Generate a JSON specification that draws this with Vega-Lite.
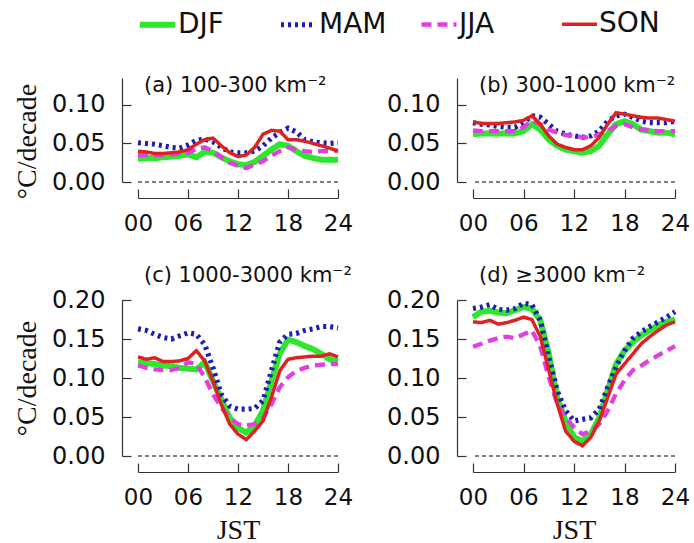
{
  "$schema": "https://vega.github.io/schema/vega-lite/v6.json",
  "background": "white",
  "padding": {"left": 13, "top": 4, "right": 10, "bottom": 2},
  "config": {
    "view": {"stroke": null},
    "font": "DejaVu Sans",
    "axis": {"grid": false, "domainColor": "#333", "tickColor": "#333", "domainWidth": 1.2, "tickWidth": 1.2, "tickSize": -9, "labelFont": "DejaVu Sans", "labelColor": "#111", "titleFont": "Liberation Serif", "titleFontWeight": "normal", "titleColor": "#111", "labelFlush": false, "labelOverlap": false},
    "axisX": {"labelFontSize": 23, "labelPadding": 23, "offset": 16, "titleFontSize": 28, "titlePadding": 7},
    "axisY": {"labelFontSize": 24, "labelPadding": 26, "offset": 16, "titleFontSize": 28, "titlePadding": 10},
    "title": {"font": "DejaVu Sans", "fontSize": 21, "fontWeight": "normal", "anchor": "start", "frame": "group", "dx": 6, "color": "#111"},
    "legend": {"labelFont": "DejaVu Sans", "labelFontSize": 28, "labelColor": "#111", "symbolSize": 1225, "symbolType": "stroke", "labelOffset": 0, "columnPadding": 24, "gridAlign": "all"}
  },
  "datasets": {
    "a": [
      {"h":0,"DJF":0.030,"MAM":0.051,"JJA":0.035,"SON":0.040},
      {"h":1,"DJF":0.031,"MAM":0.050,"JJA":0.035,"SON":0.039},
      {"h":2,"DJF":0.031,"MAM":0.049,"JJA":0.035,"SON":0.037},
      {"h":3,"DJF":0.032,"MAM":0.047,"JJA":0.035,"SON":0.037},
      {"h":4,"DJF":0.033,"MAM":0.045,"JJA":0.036,"SON":0.038},
      {"h":5,"DJF":0.034,"MAM":0.044,"JJA":0.037,"SON":0.039},
      {"h":6,"DJF":0.036,"MAM":0.048,"JJA":0.038,"SON":0.042},
      {"h":7,"DJF":0.032,"MAM":0.054,"JJA":0.043,"SON":0.049},
      {"h":8,"DJF":0.039,"MAM":0.056,"JJA":0.045,"SON":0.055},
      {"h":9,"DJF":0.038,"MAM":0.052,"JJA":0.040,"SON":0.057},
      {"h":10,"DJF":0.032,"MAM":0.045,"JJA":0.032,"SON":0.047},
      {"h":11,"DJF":0.027,"MAM":0.039,"JJA":0.025,"SON":0.038},
      {"h":12,"DJF":0.023,"MAM":0.038,"JJA":0.021,"SON":0.033},
      {"h":13,"DJF":0.022,"MAM":0.038,"JJA":0.018,"SON":0.035},
      {"h":14,"DJF":0.026,"MAM":0.040,"JJA":0.023,"SON":0.045},
      {"h":15,"DJF":0.034,"MAM":0.047,"JJA":0.027,"SON":0.062},
      {"h":16,"DJF":0.042,"MAM":0.057,"JJA":0.034,"SON":0.067},
      {"h":17,"DJF":0.049,"MAM":0.064,"JJA":0.040,"SON":0.066},
      {"h":18,"DJF":0.047,"MAM":0.070,"JJA":0.045,"SON":0.055},
      {"h":19,"DJF":0.040,"MAM":0.065,"JJA":0.042,"SON":0.055},
      {"h":20,"DJF":0.034,"MAM":0.055,"JJA":0.040,"SON":0.053},
      {"h":21,"DJF":0.031,"MAM":0.052,"JJA":0.039,"SON":0.050},
      {"h":22,"DJF":0.029,"MAM":0.051,"JJA":0.040,"SON":0.047},
      {"h":23,"DJF":0.029,"MAM":0.050,"JJA":0.040,"SON":0.044},
      {"h":24,"DJF":0.029,"MAM":0.051,"JJA":0.041,"SON":0.040}
    ],
    "b": [
      {"h":0,"DJF":0.062,"MAM":0.077,"JJA":0.067,"SON":0.078},
      {"h":1,"DJF":0.063,"MAM":0.075,"JJA":0.066,"SON":0.076},
      {"h":2,"DJF":0.063,"MAM":0.074,"JJA":0.066,"SON":0.076},
      {"h":3,"DJF":0.063,"MAM":0.072,"JJA":0.066,"SON":0.076},
      {"h":4,"DJF":0.063,"MAM":0.071,"JJA":0.066,"SON":0.077},
      {"h":5,"DJF":0.063,"MAM":0.071,"JJA":0.066,"SON":0.078},
      {"h":6,"DJF":0.066,"MAM":0.077,"JJA":0.071,"SON":0.080},
      {"h":7,"DJF":0.075,"MAM":0.086,"JJA":0.080,"SON":0.086},
      {"h":8,"DJF":0.068,"MAM":0.084,"JJA":0.075,"SON":0.075},
      {"h":9,"DJF":0.055,"MAM":0.075,"JJA":0.068,"SON":0.060},
      {"h":10,"DJF":0.047,"MAM":0.066,"JJA":0.064,"SON":0.049},
      {"h":11,"DJF":0.042,"MAM":0.062,"JJA":0.061,"SON":0.045},
      {"h":12,"DJF":0.040,"MAM":0.060,"JJA":0.060,"SON":0.042},
      {"h":13,"DJF":0.038,"MAM":0.058,"JJA":0.058,"SON":0.042},
      {"h":14,"DJF":0.040,"MAM":0.060,"JJA":0.058,"SON":0.047},
      {"h":15,"DJF":0.047,"MAM":0.066,"JJA":0.062,"SON":0.058},
      {"h":16,"DJF":0.062,"MAM":0.079,"JJA":0.066,"SON":0.075},
      {"h":17,"DJF":0.075,"MAM":0.086,"JJA":0.073,"SON":0.090},
      {"h":18,"DJF":0.079,"MAM":0.088,"JJA":0.075,"SON":0.088},
      {"h":19,"DJF":0.075,"MAM":0.084,"JJA":0.071,"SON":0.086},
      {"h":20,"DJF":0.068,"MAM":0.079,"JJA":0.068,"SON":0.084},
      {"h":21,"DJF":0.066,"MAM":0.077,"JJA":0.067,"SON":0.083},
      {"h":22,"DJF":0.064,"MAM":0.077,"JJA":0.066,"SON":0.083},
      {"h":23,"DJF":0.064,"MAM":0.077,"JJA":0.066,"SON":0.081},
      {"h":24,"DJF":0.062,"MAM":0.079,"JJA":0.066,"SON":0.079}
    ],
    "c": [
      {"h":0,"DJF":0.120,"MAM":0.163,"JJA":0.116,"SON":0.127},
      {"h":1,"DJF":0.119,"MAM":0.161,"JJA":0.113,"SON":0.124},
      {"h":2,"DJF":0.118,"MAM":0.156,"JJA":0.111,"SON":0.126},
      {"h":3,"DJF":0.116,"MAM":0.152,"JJA":0.110,"SON":0.121},
      {"h":4,"DJF":0.115,"MAM":0.150,"JJA":0.110,"SON":0.121},
      {"h":5,"DJF":0.113,"MAM":0.154,"JJA":0.113,"SON":0.122},
      {"h":6,"DJF":0.112,"MAM":0.158,"JJA":0.120,"SON":0.125},
      {"h":7,"DJF":0.111,"MAM":0.156,"JJA":0.118,"SON":0.135},
      {"h":8,"DJF":0.120,"MAM":0.143,"JJA":0.101,"SON":0.122},
      {"h":9,"DJF":0.096,"MAM":0.113,"JJA":0.079,"SON":0.096},
      {"h":10,"DJF":0.073,"MAM":0.079,"JJA":0.062,"SON":0.066},
      {"h":11,"DJF":0.049,"MAM":0.064,"JJA":0.049,"SON":0.041},
      {"h":12,"DJF":0.036,"MAM":0.060,"JJA":0.041,"SON":0.028},
      {"h":13,"DJF":0.030,"MAM":0.060,"JJA":0.039,"SON":0.021},
      {"h":14,"DJF":0.039,"MAM":0.061,"JJA":0.041,"SON":0.032},
      {"h":15,"DJF":0.058,"MAM":0.071,"JJA":0.049,"SON":0.045},
      {"h":16,"DJF":0.096,"MAM":0.109,"JJA":0.066,"SON":0.075},
      {"h":17,"DJF":0.131,"MAM":0.146,"JJA":0.088,"SON":0.109},
      {"h":18,"DJF":0.149,"MAM":0.156,"JJA":0.101,"SON":0.124},
      {"h":19,"DJF":0.146,"MAM":0.157,"JJA":0.109,"SON":0.126},
      {"h":20,"DJF":0.141,"MAM":0.161,"JJA":0.113,"SON":0.127},
      {"h":21,"DJF":0.137,"MAM":0.163,"JJA":0.116,"SON":0.128},
      {"h":22,"DJF":0.131,"MAM":0.166,"JJA":0.117,"SON":0.128},
      {"h":23,"DJF":0.124,"MAM":0.166,"JJA":0.118,"SON":0.131},
      {"h":24,"DJF":0.121,"MAM":0.164,"JJA":0.118,"SON":0.127}
    ],
    "d": [
      {"h":0,"DJF":0.178,"MAM":0.189,"JJA":0.140,"SON":0.172},
      {"h":1,"DJF":0.185,"MAM":0.191,"JJA":0.144,"SON":0.171},
      {"h":2,"DJF":0.186,"MAM":0.194,"JJA":0.148,"SON":0.174},
      {"h":3,"DJF":0.184,"MAM":0.188,"JJA":0.151,"SON":0.169},
      {"h":4,"DJF":0.183,"MAM":0.187,"JJA":0.153,"SON":0.171},
      {"h":5,"DJF":0.187,"MAM":0.189,"JJA":0.151,"SON":0.174},
      {"h":6,"DJF":0.191,"MAM":0.196,"JJA":0.156,"SON":0.178},
      {"h":7,"DJF":0.189,"MAM":0.194,"JJA":0.161,"SON":0.175},
      {"h":8,"DJF":0.174,"MAM":0.174,"JJA":0.140,"SON":0.153},
      {"h":9,"DJF":0.131,"MAM":0.127,"JJA":0.101,"SON":0.110},
      {"h":10,"DJF":0.075,"MAM":0.084,"JJA":0.067,"SON":0.067},
      {"h":11,"DJF":0.045,"MAM":0.058,"JJA":0.049,"SON":0.032},
      {"h":12,"DJF":0.024,"MAM":0.045,"JJA":0.037,"SON":0.019},
      {"h":13,"DJF":0.019,"MAM":0.047,"JJA":0.028,"SON":0.013},
      {"h":14,"DJF":0.028,"MAM":0.049,"JJA":0.032,"SON":0.024},
      {"h":15,"DJF":0.049,"MAM":0.060,"JJA":0.041,"SON":0.045},
      {"h":16,"DJF":0.084,"MAM":0.088,"JJA":0.058,"SON":0.075},
      {"h":17,"DJF":0.118,"MAM":0.114,"JJA":0.080,"SON":0.105},
      {"h":18,"DJF":0.135,"MAM":0.135,"JJA":0.097,"SON":0.118},
      {"h":19,"DJF":0.146,"MAM":0.151,"JJA":0.110,"SON":0.131},
      {"h":20,"DJF":0.155,"MAM":0.159,"JJA":0.116,"SON":0.144},
      {"h":21,"DJF":0.161,"MAM":0.166,"JJA":0.123,"SON":0.153},
      {"h":22,"DJF":0.168,"MAM":0.172,"JJA":0.129,"SON":0.161},
      {"h":23,"DJF":0.172,"MAM":0.178,"JJA":0.135,"SON":0.168},
      {"h":24,"DJF":0.175,"MAM":0.185,"JJA":0.141,"SON":0.172}
    ]
  },
  "columns": 2,
  "spacing": {"row": 118, "column": 135},
  "bounds": "flush",
  "resolve": {"scale": {"color": "shared", "strokeDash": "shared", "strokeWidth": "shared"}},
  "concat": [
    {
      "width": 200, "height": 104,
      "title": {"text": "(a) 100-300 km⁻²", "offset": -18},
      "layer": [
        {"data": {"name": "a"}, "transform": [{"fold": ["DJF","MAM","JJA","SON"], "as": ["s","v"]}],
         "mark": {"type": "line"},
         "encoding": {
           "x": {"field": "h", "type": "quantitative", "scale": {"domain": [0,24], "nice": false}, "axis": {"values": [0,6,12,18,24], "format": "02d", "title": null}},
           "y": {"field": "v", "type": "quantitative", "scale": {"domain": [0,0.135], "nice": false, "zero": false}, "axis": {"values": [0,0.05,0.1], "format": ".2f", "title": "°C/decade", "titleY": 63}},
           "color": {"field": "s", "type": "nominal", "scale": {"domain": ["DJF","MAM","JJA","SON"], "range": ["#2EE62E","#1E1EB4","#E040E0","#DD2222"]}, "legend": {"title": null, "orient": "none", "legendX": -1, "legendY": -74, "direction": "horizontal"}},
           "strokeDash": {"field": "s", "type": "nominal", "scale": {"domain": ["DJF","MAM","JJA","SON"], "range": [[1,0],[3,4],[10,6],[1,0]]}, "legend": {"title": null, "orient": "none", "legendX": -1, "legendY": -74, "direction": "horizontal"}},
           "strokeWidth": {"field": "s", "type": "nominal", "scale": {"domain": ["DJF","MAM","JJA","SON"], "range": [6,3.5,2.2,2]}, "legend": {"title": null, "orient": "none", "legendX": -1, "legendY": -74, "direction": "horizontal"}}
         }},
        {"data": {"values": [{}]}, "mark": {"type": "rule", "strokeDash": [4,3], "color": "#000", "strokeWidth": 1.2},
         "encoding": {"y": {"datum": 0, "type": "quantitative", "axis": {"values": [0,0.05,0.1], "format": ".2f", "title": "°C/decade", "titleY": 63}}}}
      ]
    },
    {
      "width": 202, "height": 104,
      "title": {"text": "(b) 300-1000 km⁻²", "offset": -18},
      "layer": [
        {"data": {"name": "b"}, "transform": [{"fold": ["DJF","MAM","JJA","SON"], "as": ["s","v"]}],
         "mark": {"type": "line"},
         "encoding": {
           "x": {"field": "h", "type": "quantitative", "scale": {"domain": [0,24], "nice": false}, "axis": {"values": [0,6,12,18,24], "format": "02d", "title": null}},
           "y": {"field": "v", "type": "quantitative", "scale": {"domain": [0,0.135], "nice": false, "zero": false}, "axis": {"values": [0,0.05,0.1], "format": ".2f", "title": null}},
           "color": {"field": "s", "type": "nominal", "scale": {"domain": ["DJF","MAM","JJA","SON"], "range": ["#2EE62E","#1E1EB4","#E040E0","#DD2222"]}, "legend": {"title": null, "orient": "none", "legendX": -1, "legendY": -74, "direction": "horizontal"}},
           "strokeDash": {"field": "s", "type": "nominal", "scale": {"domain": ["DJF","MAM","JJA","SON"], "range": [[1,0],[3,4],[10,6],[1,0]]}, "legend": {"title": null, "orient": "none", "legendX": -1, "legendY": -74, "direction": "horizontal"}},
           "strokeWidth": {"field": "s", "type": "nominal", "scale": {"domain": ["DJF","MAM","JJA","SON"], "range": [6,3.5,2.2,2]}, "legend": {"title": null, "orient": "none", "legendX": -1, "legendY": -74, "direction": "horizontal"}}
         }},
        {"data": {"values": [{}]}, "mark": {"type": "rule", "strokeDash": [4,3], "color": "#000", "strokeWidth": 1.2},
         "encoding": {"y": {"datum": 0, "type": "quantitative", "axis": {"values": [0,0.05,0.1], "format": ".2f", "title": null}}}}
      ]
    },
    {
      "width": 200, "height": 156,
      "title": {"text": "(c) 1000-3000 km⁻²", "offset": 2},
      "layer": [
        {"data": {"name": "c"}, "transform": [{"fold": ["DJF","MAM","JJA","SON"], "as": ["s","v"]}],
         "mark": {"type": "line"},
         "encoding": {
           "x": {"field": "h", "type": "quantitative", "scale": {"domain": [0,24], "nice": false}, "axis": {"values": [0,6,12,18,24], "format": "02d", "title": "JST"}},
           "y": {"field": "v", "type": "quantitative", "scale": {"domain": [0,0.2], "nice": false, "zero": false}, "axis": {"values": [0,0.05,0.1,0.15,0.2], "format": ".2f", "title": "°C/decade"}},
           "color": {"field": "s", "type": "nominal", "scale": {"domain": ["DJF","MAM","JJA","SON"], "range": ["#2EE62E","#1E1EB4","#E040E0","#DD2222"]}, "legend": {"title": null, "orient": "none", "legendX": -1, "legendY": -74, "direction": "horizontal"}},
           "strokeDash": {"field": "s", "type": "nominal", "scale": {"domain": ["DJF","MAM","JJA","SON"], "range": [[1,0],[3,4],[10,6],[1,0]]}, "legend": {"title": null, "orient": "none", "legendX": -1, "legendY": -74, "direction": "horizontal"}},
           "strokeWidth": {"field": "s", "type": "nominal", "scale": {"domain": ["DJF","MAM","JJA","SON"], "range": [6,3.5,2.2,2]}, "legend": {"title": null, "orient": "none", "legendX": -1, "legendY": -74, "direction": "horizontal"}}
         }},
        {"data": {"values": [{}]}, "mark": {"type": "rule", "strokeDash": [4,3], "color": "#000", "strokeWidth": 1.2},
         "encoding": {"y": {"datum": 0, "type": "quantitative", "axis": {"values": [0,0.05,0.1,0.15,0.2], "format": ".2f", "title": "°C/decade"}}}}
      ]
    },
    {
      "width": 202, "height": 156,
      "title": {"text": "(d) ≥3000 km⁻²", "offset": 2},
      "layer": [
        {"data": {"name": "d"}, "transform": [{"fold": ["DJF","MAM","JJA","SON"], "as": ["s","v"]}],
         "mark": {"type": "line"},
         "encoding": {
           "x": {"field": "h", "type": "quantitative", "scale": {"domain": [0,24], "nice": false}, "axis": {"values": [0,6,12,18,24], "format": "02d", "title": "JST"}},
           "y": {"field": "v", "type": "quantitative", "scale": {"domain": [0,0.2], "nice": false, "zero": false}, "axis": {"values": [0,0.05,0.1,0.15,0.2], "format": ".2f", "title": null}},
           "color": {"field": "s", "type": "nominal", "scale": {"domain": ["DJF","MAM","JJA","SON"], "range": ["#2EE62E","#1E1EB4","#E040E0","#DD2222"]}, "legend": {"title": null, "orient": "none", "legendX": -1, "legendY": -74, "direction": "horizontal"}},
           "strokeDash": {"field": "s", "type": "nominal", "scale": {"domain": ["DJF","MAM","JJA","SON"], "range": [[1,0],[3,4],[10,6],[1,0]]}, "legend": {"title": null, "orient": "none", "legendX": -1, "legendY": -74, "direction": "horizontal"}},
           "strokeWidth": {"field": "s", "type": "nominal", "scale": {"domain": ["DJF","MAM","JJA","SON"], "range": [6,3.5,2.2,2]}, "legend": {"title": null, "orient": "none", "legendX": -1, "legendY": -74, "direction": "horizontal"}}
         }},
        {"data": {"values": [{}]}, "mark": {"type": "rule", "strokeDash": [4,3], "color": "#000", "strokeWidth": 1.2},
         "encoding": {"y": {"datum": 0, "type": "quantitative", "axis": {"values": [0,0.05,0.1,0.15,0.2], "format": ".2f", "title": null}}}}
      ]
    }
  ]
}
